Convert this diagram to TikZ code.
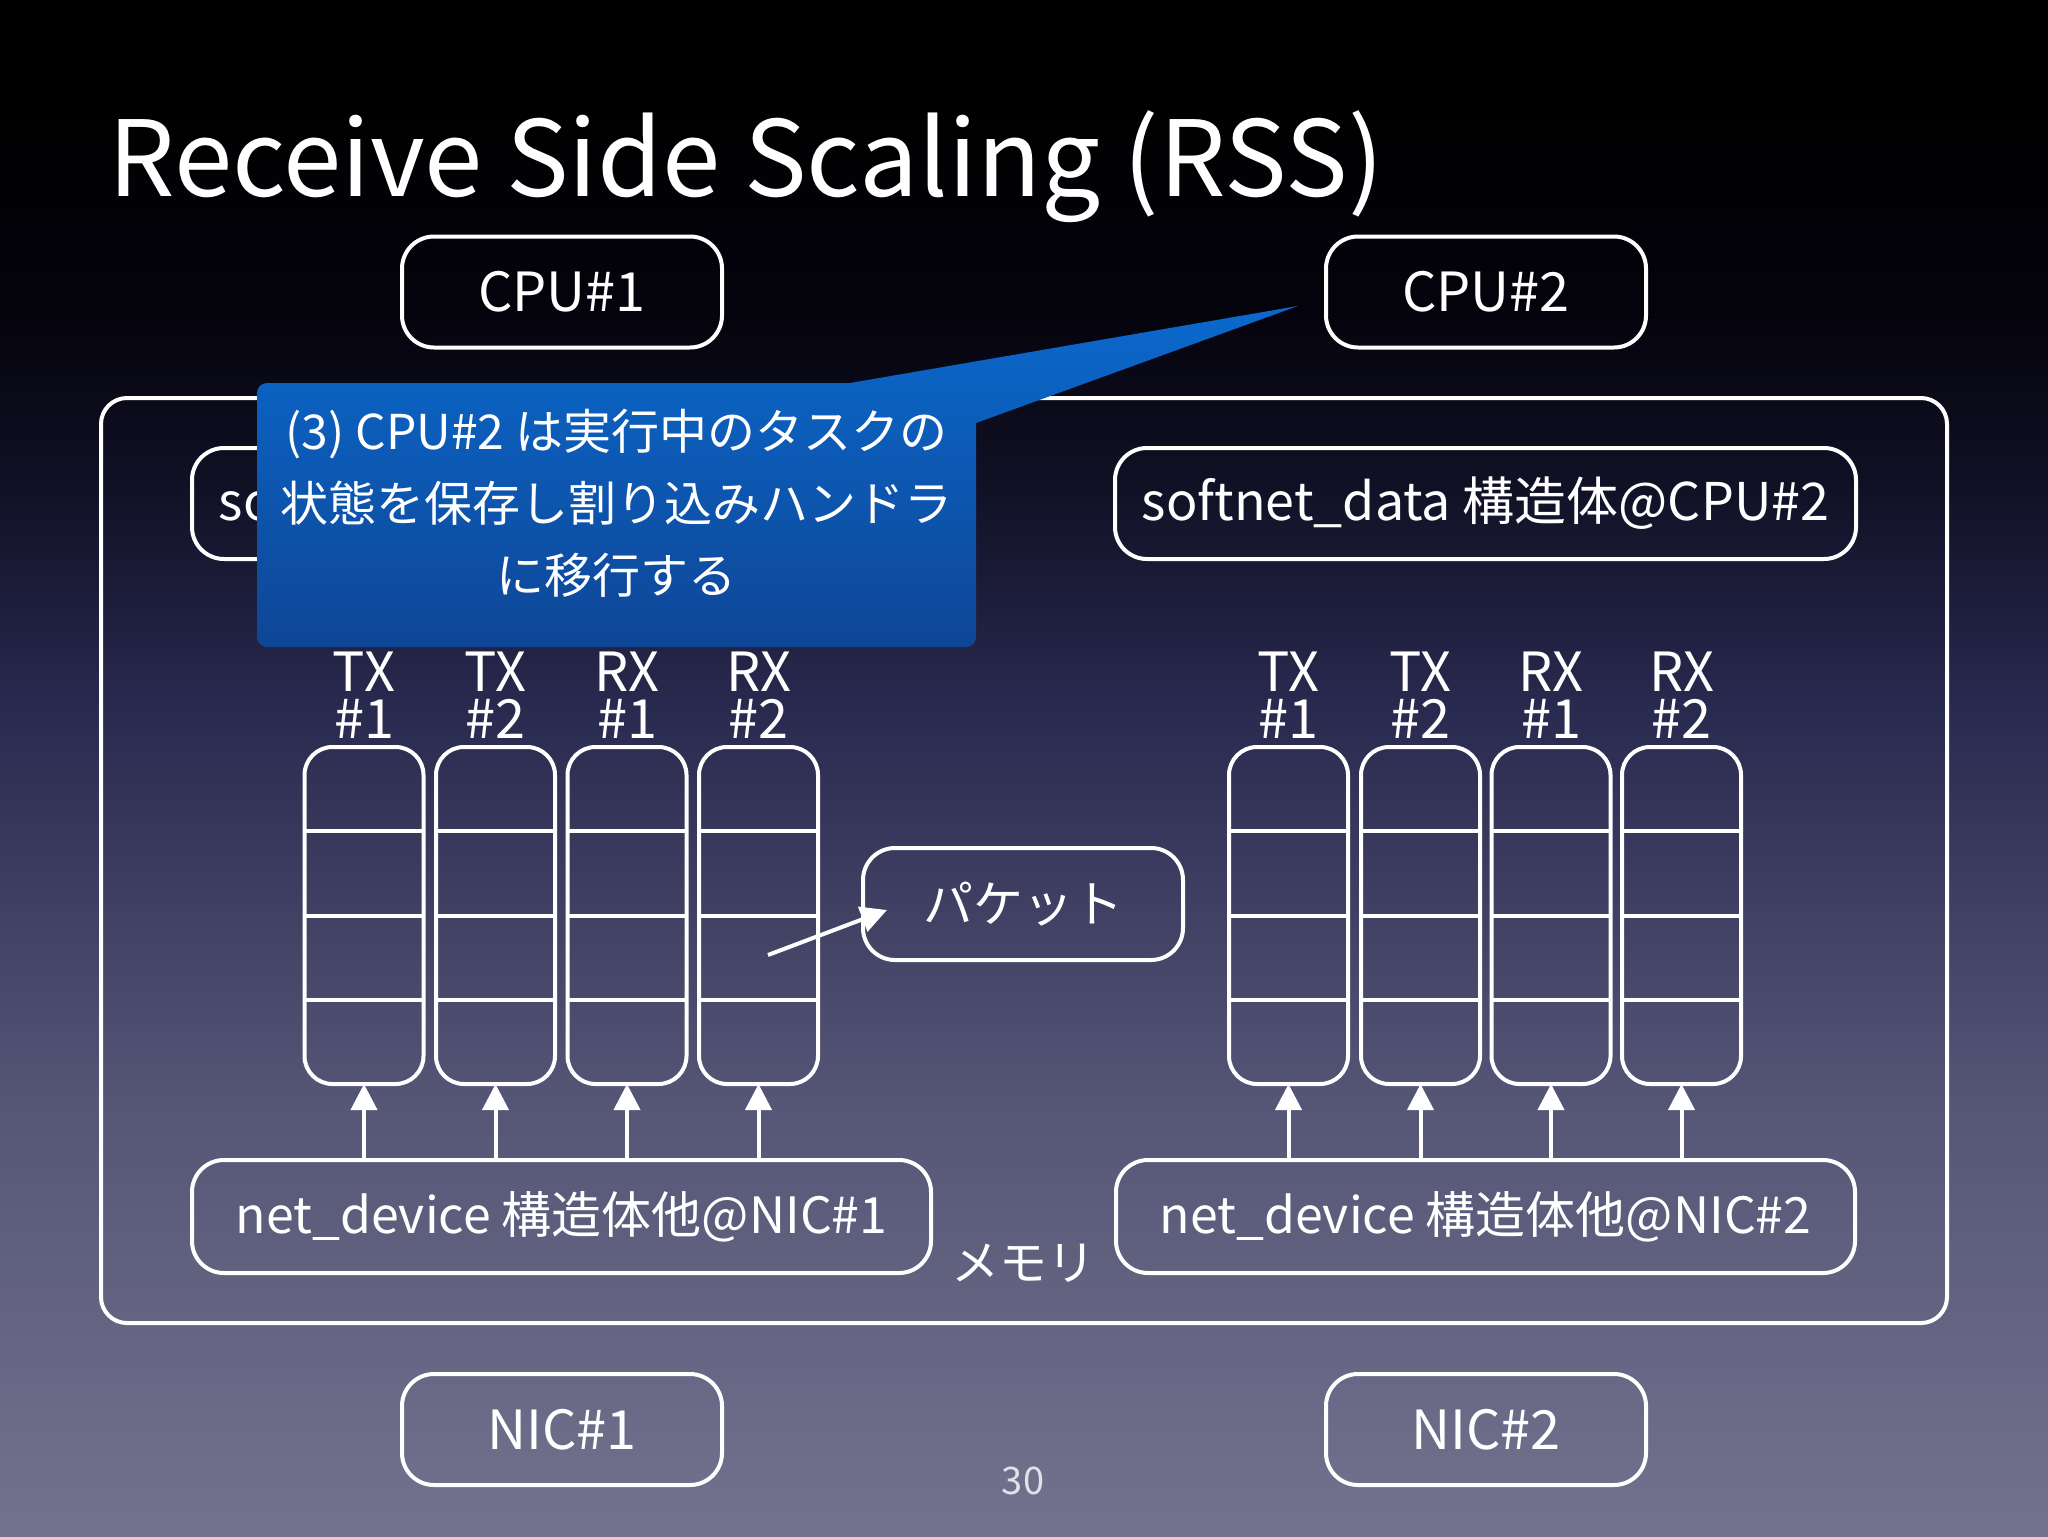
\documentclass[tikz,border=0pt]{standalone}
\usepackage{fontspec}
\setmainfont{Noto Sans CJK JP}
\usetikzlibrary{arrows.meta,calc}
\definecolor{bgA}{RGB}{0,0,0}
\definecolor{bgB}{RGB}{4,3,12}
\definecolor{bgC}{RGB}{18,18,40}
\definecolor{bgD}{RGB}{40,41,78}
\definecolor{bgE}{RGB}{85,85,118}
\definecolor{bgF}{RGB}{115,114,142}
\definecolor{coTop}{RGB}{10,105,205}
\definecolor{coBot}{RGB}{15,70,150}
\definecolor{pgcol}{RGB}{225,225,232}
\pgfdeclareverticalshading{slidebg}{100bp}{color(0bp)=(bgF); color(25bp)=(bgF); color(39.2bp)=(bgE); color(52.2bp)=(bgD); color(58.7bp)=(bgC); color(65bp)=(bgB); color(72bp)=(bgA); color(100bp)=(bgA)}
\tikzset{
  wbox/.style={draw=white, line width=2pt, rounded corners=16pt, text=white, inner sep=0pt, outer sep=0pt, font=\fontsize{27}{32}\selectfont},
  qcol/.style={draw=white, line width=2pt, rounded corners=14pt, minimum width=59.5pt, minimum height=168.5pt, inner sep=0pt, outer sep=0pt},
  qlab/.style={text=white, font=\fontsize{27}{23.5}\selectfont, align=center, inner sep=0pt},
  upar/.style={draw=white, line width=2pt, -{Triangle[width=13pt,length=13pt]}},
  divl/.style={draw=white, line width=2pt},
}
\begin{document}
\begin{tikzpicture}[x=0.5pt,y=-0.5pt]
\useasboundingbox (0,0) rectangle (2048,1536);
\shade[shading=slidebg] (0,0) rectangle (2048,1536);

\node[anchor=base west, text=white, font=\fontsize{52.5}{60}\selectfont, inner sep=0pt] (title) at (108,196) {Receive Side Scaling (RSS)};

\node[wbox, minimum width=160pt, minimum height=55.5pt] (cpu1) at (562,292) {CPU\#1};
\node[wbox, minimum width=160pt, minimum height=55.5pt] (cpu2) at (1486,292) {CPU\#2};

\node[draw=white, line width=2pt, rounded corners=13pt, minimum width=923pt, minimum height=462.5pt, inner sep=0pt, outer sep=0pt] (mem) at (1024,860.5) {};

\node[wbox, minimum width=370.5pt, minimum height=55.5pt, font=\fontsize{26}{30}\selectfont] (sdL) at (562.5,503.5) {softnet\_data 構造体@CPU\#1};
\node[wbox, minimum width=370.5pt, minimum height=55.5pt, font=\fontsize{26}{30}\selectfont] (sdR) at (1485.5,503.5) {softnet\_data 構造体@CPU\#2};

\node[wbox, minimum width=369.5pt, minimum height=56.5pt, font=\fontsize{25}{30}\selectfont] (ndL) at (561.5,1216.5) {net\_device 構造体他@NIC\#1};
\node[wbox, minimum width=369.5pt, minimum height=56.5pt, font=\fontsize{25}{30}\selectfont] (ndR) at (1485.5,1216.5) {net\_device 構造体他@NIC\#2};

\foreach \n/\x/\a/\b in {L1/364/TX/1, L2/495.5/TX/2, L3/627/RX/1, L4/758.5/RX/2, R1/1288.5/TX/1, R2/1420.5/TX/2, R3/1551/RX/1, R4/1681.5/RX/2} {
  \node[qcol] (q\n) at (\x,915.5) {};
  \foreach \f in {0.25,0.5,0.75}
    \draw[divl] ($(q\n.north west)!\f!(q\n.south west)$) -- ($(q\n.north east)!\f!(q\n.south east)$);
  \node[qlab] (t\n) at (\x,695) {\a\\\#\b};
}
\foreach \n in {L1,L2,L3,L4} \draw[upar] (q\n.south |- ndL.north) -- (q\n.south);
\foreach \n in {R1,R2,R3,R4} \draw[upar] (q\n.south |- ndR.north) -- (q\n.south);

\node[wbox, minimum width=160pt, minimum height=56pt, font=\fontsize{25}{30}\selectfont] (pk) at (1023,904) {パケット};
\coordinate (pa) at (768,955);
\coordinate (pb) at (887,910);
\draw[upar] (pa) -- (pb);

\node[text=white, font=\fontsize{24}{28}\selectfont, inner sep=0pt] (memlab) at (1023,1263) {メモリ};

\node[wbox, minimum width=160pt, minimum height=55.5pt] (nic1) at (562,1429.5) {NIC\#1};
\node[wbox, minimum width=160pt, minimum height=55.5pt] (nic2) at (1486,1429.5) {NIC\#2};

\node[text=pgcol, font=\fontsize{19}{22}\selectfont, inner sep=0pt] (pg) at (1023,1481) {30};

\shade[top color=coTop, bottom color=coBot] (850,383) -- (1298,306) -- (976,423) [rounded corners=5pt] -- (976,647) -- (257,647) -- (257,383) [sharp corners] -- (850,383) -- cycle;
\node[text=white, align=center, font=\fontsize{24}{36}\selectfont, inner sep=0pt] (note) at (616.5,503) {(3) CPU\#2 は実行中のタスクの\\状態を保存し割り込みハンドラ\\に移行する};
\end{tikzpicture}
\end{document}
